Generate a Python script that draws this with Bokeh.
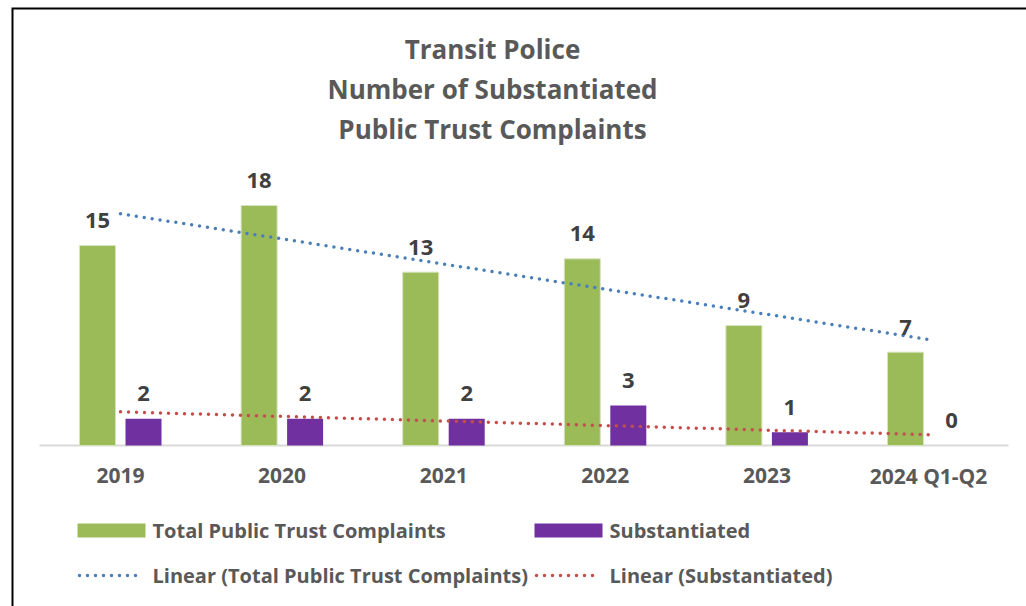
import numpy as np
from bokeh.plotting import figure
from bokeh.models import Range1d, ColumnDataSource
from bokeh.core.properties import value
from bokeh.transform import dodge
from bokeh.embed import file_html
from bokeh.resources import INLINE

# ---------------- data ----------------
categories = ["2019", "2020", "2021", "2022", "2023", "2024 Q1-Q2"]
total_complaints = [15, 18, 13, 14, 9, 7]
substantiated = [2, 2, 2, 3, 1, 0]
title_lines = ["Transit Police", "Number of Substantiated", "Public Trust Complaints"]
series_names = ["Total Public Trust Complaints", "Substantiated"]
trend_names = ["Linear (Total Public Trust Complaints)", "Linear (Substantiated)"]

# ---------------- layout ----------------
W, H = 1026, 606
X0_PX = 120.0        # pixel of first category centre
STEP_PX = 161.6      # pixels per category
BASE_PX = 445.0      # pixel of value 0
UNIT_PX = 40.0 / 3   # pixels per complaint

def xd(px):
    return (px - X0_PX) / STEP_PX

def yd(py):
    return (BASE_PX - py) / UNIT_PX

GREEN = "#9BBB59"
PURPLE = "#7030A0"
BLUE = "#4A7EBB"
RED = "#C0504D"
GREY_TXT = "#595959"
DARK_TXT = "#404040"
FONT = value("Open Sans")

p = figure(width=W, height=H, output_backend="svg", toolbar_location=None,
           x_range=Range1d(xd(0), xd(W)), y_range=Range1d(yd(H), yd(0)),
           x_axis_location=None, y_axis_location=None, min_border=0,
           outline_line_color=None, background_fill_color="white",
           border_fill_color="white")
p.grid.visible = False

idx = np.arange(len(categories))
src = ColumnDataSource(dict(
    x=idx, cat=categories, total=total_complaints, sub=substantiated,
    total_lbl=[str(v) for v in total_complaints],
    sub_lbl=[str(v) for v in substantiated],
))

BAR_W = 36 / STEP_PX
OFF = 23 / STEP_PX

# outer frame (chart border)
p.line(x=[xd(12), xd(12), xd(W + 10)], y=[yd(H + 10), yd(8), yd(8)],
       line_color="black", line_width=2, line_join="miter")

# category axis line
p.segment(x0=[xd(39)], y0=[0], x1=[xd(1008)], y1=[0],
          line_color="#D9D9D9", line_width=2)

# bars
p.vbar(x=dodge("x", -OFF), top="total", width=BAR_W, bottom=0, source=src,
       fill_color=GREEN, line_color="#D7E4BD", line_width=1)
p.vbar(x=dodge("x", OFF), top="sub", width=BAR_W, bottom=0, source=src,
       fill_color=PURPLE, line_color=None)

# linear trend lines (least squares, as in the original)
for vals, col in ((total_complaints, BLUE), (substantiated, RED)):
    slope, icpt = np.polyfit(idx, vals, 1)
    xs = [idx[0], idx[-1]]
    p.line(x=xs, y=[icpt + slope * xs[0], icpt + slope * xs[1]],
           line_color=col, line_width=3.5, line_dash="0 8", line_cap="round")

# data labels
p.text(x=dodge("x", -OFF), y="total", text="total_lbl", source=src,
       y_offset=-25, text_align="center", text_baseline="middle",
       text_font=FONT, text_font_style="bold", text_font_size="22px",
       text_color=DARK_TXT)
p.text(x=dodge("x", OFF), y="sub", text="sub_lbl", source=src,
       y_offset=-25, text_align="center", text_baseline="middle",
       text_font=FONT, text_font_style="bold", text_font_size="22px",
       text_color=DARK_TXT)

# category labels
p.text(x="x", y=0, text="cat", source=src, y_offset=30,
       text_align="center", text_baseline="middle",
       text_font=FONT, text_font_style="bold", text_font_size="21px",
       text_color=GREY_TXT)

# title
for i, line in enumerate(title_lines):
    p.text(x=[xd(492)], y=[yd(48 + 40 * i)], text=[line],
           text_align="center", text_baseline="middle",
           text_font=FONT, text_font_style="bold", text_font_size="26px",
           text_color=GREY_TXT)

# legend
LEG_X = [77, 534]
ROW_Y = [530, 575]
for j, (name, col) in enumerate(zip(series_names, [GREEN, PURPLE])):
    p.quad(left=[xd(LEG_X[j])], right=[xd(LEG_X[j] + 68)],
           top=[yd(ROW_Y[0] - 7)], bottom=[yd(ROW_Y[0] + 7)],
           fill_color=col, line_color=None)
    p.text(x=[xd(LEG_X[j] + 75)], y=[yd(ROW_Y[0])], text=[name],
           text_align="left", text_baseline="middle",
           text_font=FONT, text_font_style="bold", text_font_size="20px",
           text_color=GREY_TXT)
for j, (name, col) in enumerate(zip(trend_names, [BLUE, RED])):
    p.line(x=[xd(LEG_X[j] + 2), xd(LEG_X[j] + 66)], y=[yd(ROW_Y[1])] * 2,
           line_color=col, line_width=3.5, line_dash="0 8", line_cap="round")
    p.text(x=[xd(LEG_X[j] + 75)], y=[yd(ROW_Y[1])], text=[name],
           text_align="left", text_baseline="middle",
           text_font=FONT, text_font_style="bold", text_font_size="20px",
           text_color=GREY_TXT)

open("out.html", "w").write(file_html(p, INLINE))
